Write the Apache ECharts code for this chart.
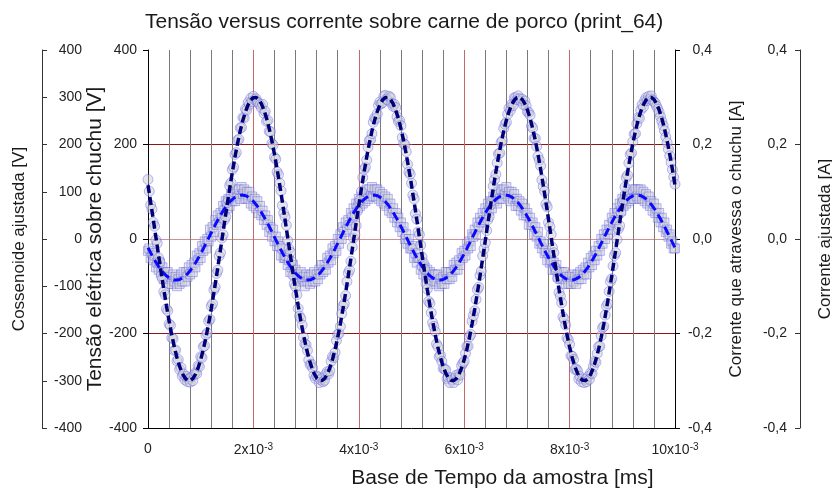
<!DOCTYPE html>
<html><head><meta charset="utf-8">
<script src="https://cdn.jsdelivr.net/npm/echarts@6/dist/echarts.min.js"></script>
<style>html,body{margin:0;padding:0;background:#fff}#c{width:832px;height:490px}</style>
</head><body><div id="c"></div>
<script>
const chartTitle = 'Tensão versus corrente sobre carne de porco (print_64)';
const xName = 'Base de Tempo da amostra [ms]';
const yNameVoltage = 'Tensão elétrica sobre chuchu [V]';
const yNameVoltageFit = 'Cossenoide ajustada [V]';
const yNameCurrent = 'Corrente que atravessa o chuchu [A]';
const yNameCurrentFit = 'Corrente ajustada [A]';

const xTickLabels = ['0', '2x10{sup|-3}', '4x10{sup|-3}', '6x10{sup|-3}', '8x10{sup|-3}', '10x10{sup|-3}'];
const currentTickLabels = ['-0,4', '-0,2', '0,0', '0,2', '0,4'];
const majorGridTimes = [0.002, 0.004, 0.006, 0.008];
const minorGridTimes = [0.0004, 0.0008, 0.0012, 0.0016, 0.0024, 0.0028, 0.0032, 0.0036, 0.0044, 0.0048,
  0.0052, 0.0056, 0.0064, 0.0068, 0.0072, 0.0076, 0.0084, 0.0088, 0.0092, 0.0096];

// sampling grid of the measurement and of the fitted curves (seconds)
const sampleTimeStep = 0.000025;
const fitTimeStep = 0.00005;

// measured voltage [V]
const voltageMeasured = [
126,101,72,63,35,27,-2,-9,-40,-49,-78,-84,-111,-118,-148,-152,-180,-183,-209,-211,
-236,-235,-258,-255,-276,-272,-290,-286,-298,-291,-302,-296,-303,-292,-300,-287,-283,-285,-268,-270,
-249,-251,-228,-226,-203,-199,-174,-170,-142,-137,-108,-102,-73,-66,-36,-29,2,9,40,47,
77,83,113,119,147,152,179,183,209,211,235,236,257,256,275,273,289,285,298,291,
302,295,297,290,287,284,278,285,266,270,249,251,228,227,202,199,173,169,142,136,
118,102,71,55,47,29,-3,-21,-28,-47,-77,-95,-101,-118,-147,-163,-168,-182,-208,-222,
-224,-236,-256,-266,-265,-273,-289,-295,-290,-292,-304,-298,-295,-302,-299,-286,-281,-286,-279,-259,
-249,-251,-240,-215,-202,-200,-185,-158,-142,-137,-120,-90,-72,-66,-47,-17,2,9,28,59,
77,83,101,130,147,152,167,194,209,210,223,247,256,255,265,283,290,286,289,302,
304,296,294,302,299,287,281,285,278,259,249,251,240,215,202,200,185,158,142,137,
118,93,85,54,42,15,9,-13,-38,-50,-64,-95,-106,-132,-136,-156,-177,-185,-196,-222,
-228,-249,-246,-259,-274,-275,-277,-296,-293,-304,-294,-298,-304,-295,-288,-298,-286,-288,-268,-263,
-259,-242,-227,-227,-207,-202,-174,-162,-152,-128,-107,-102,-77,-68,-36,-21,-8,18,41,47,
72,81,112,126,137,161,180,182,204,208,234,243,247,264,277,272,285,282,299,299,
295,303,297,292,296,284,292,282,269,268,262,239,235,213,213,196,175,167,155,125,
111,101,74,68,35,26,10,-18,-29,-60,-68,-83,-113,-121,-135,-165,-170,-182,-209,-213,
-223,-247,-248,-255,-276,-275,-279,-296,-291,-302,-296,-304,-297,-302,-291,-297,-283,-285,-270,-259,
-261,-242,-228,-227,-205,-188,-185,-161,-142,-137,-111,-90,-84,-57,-35,-29,-1,21,28,56,
77,83,110,130,135,161,179,182,206,222,223,244,257,255,273,284,279,293,299,293,
302,296,303,294,290,288,281,275,268,259,249,240,229,216,204,190,176,162,147,131,
116];

// measured current [A]
const currentMeasured = [
-0.025,-0.020,-0.040,-0.030,-0.045,-0.035,-0.060,-0.050,-0.065,-0.050,-0.070,-0.060,-0.085,-0.070,-0.085,-0.070,-0.095,-0.080,-0.095,-0.075,
-0.090,-0.080,-0.100,-0.085,-0.095,-0.075,-0.090,-0.070,-0.090,-0.070,-0.080,-0.060,-0.075,-0.055,-0.070,-0.050,-0.060,-0.035,-0.045,-0.030,
-0.040,-0.015,-0.025,-0.005,-0.020,0.000,-0.005,0.020,0.005,0.025,0.015,0.040,0.030,0.050,0.035,0.055,0.045,0.070,0.060,0.080,
0.065,0.085,0.070,0.095,0.080,0.095,0.080,0.105,0.090,0.105,0.085,0.110,0.095,0.105,0.085,0.100,0.085,0.100,0.075,0.090,
0.070,0.085,0.065,0.080,0.055,0.070,0.050,0.060,0.040,0.050,0.030,0.040,0.015,0.025,0.005,0.020,-0.005,0.005,-0.015,-0.005,
-0.015,-0.035,-0.020,-0.040,-0.040,-0.035,-0.055,-0.045,-0.070,-0.060,-0.055,-0.075,-0.065,-0.085,-0.075,-0.090,-0.070,-0.090,-0.080,-0.100,
-0.075,-0.090,-0.080,-0.095,-0.075,-0.090,-0.070,-0.090,-0.075,-0.085,-0.065,-0.075,-0.055,-0.070,-0.055,-0.065,-0.040,-0.050,-0.035,-0.045,
-0.020,-0.030,-0.015,-0.025,0.000,-0.010,0.010,0.000,0.025,0.015,0.035,0.020,0.040,0.030,0.055,0.045,0.065,0.050,0.075,0.065,
0.085,0.070,0.090,0.075,0.095,0.080,0.105,0.085,0.105,0.090,0.110,0.090,0.105,0.090,0.105,0.085,0.100,0.080,0.095,0.075,
0.090,0.070,0.085,0.060,0.075,0.055,0.065,0.045,0.055,0.035,0.045,0.025,0.035,0.015,0.025,0.000,0.010,-0.010,0.000,-0.020,
-0.020,-0.015,-0.040,-0.030,-0.050,-0.040,-0.040,-0.065,-0.055,-0.075,-0.060,-0.080,-0.065,-0.080,-0.070,-0.090,-0.075,-0.095,-0.075,-0.090,
-0.075,-0.100,-0.085,-0.095,-0.080,-0.095,-0.070,-0.085,-0.070,-0.085,-0.070,-0.080,-0.055,-0.065,-0.050,-0.065,-0.045,-0.055,-0.030,-0.040,
-0.025,-0.035,-0.010,-0.020,-0.005,-0.015,0.010,0.005,0.020,0.010,0.035,0.025,0.045,0.035,0.055,0.040,0.065,0.055,0.075,0.060,
0.080,0.065,0.090,0.080,0.095,0.075,0.100,0.085,0.105,0.085,0.105,0.095,0.110,0.090,0.100,0.080,0.100,0.085,0.095,0.070,
0.085,0.070,0.080,0.060,0.075,0.050,0.065,0.050,0.055,0.030,0.045,0.030,0.035,0.010,0.025,0.005,0.015,-0.010,-0.005,-0.020,
-0.010,-0.030,-0.025,-0.045,-0.030,-0.050,-0.045,-0.065,-0.050,-0.065,-0.055,-0.080,-0.070,-0.085,-0.070,-0.085,-0.070,-0.095,-0.080,-0.095,
-0.080,-0.095,-0.075,-0.090,-0.080,-0.095,-0.075,-0.085,-0.070,-0.085,-0.065,-0.075,-0.060,-0.075,-0.050,-0.060,-0.040,-0.055,-0.035,-0.045,
-0.025,-0.035,-0.015,-0.025,0.000,-0.010,0.010,0.000,0.020,0.010,0.030,0.020,0.045,0.035,0.055,0.040,0.065,0.055,0.075,0.060,
0.085,0.070,0.090,0.075,0.095,0.080,0.100,0.085,0.105,0.085,0.105,0.090,0.105,0.085,0.105,0.085,0.100,0.080,0.095,0.075,
0.090,0.070,0.080,0.060,0.075,0.055,0.065,0.045,0.055,0.035,0.045,0.025,0.035,0.015,0.020,0.005,0.010,-0.010,-0.005,-0.020,
-0.020];

// fitted cosine for the voltage [V]
const voltageFit = [
113.9,78.3,41.3,3.8,-33.9,-71.0,-106.9,-141.2,-173.3,-202.6,-228.7,-251.3,-269.8,-284.1,-294.0,-299.2,-299.6,-295.4,-286.5,-273.0,-255.3,-233.6,-208.1,-179.4,-147.8,
-113.9,-78.3,-41.3,-3.8,33.9,71.0,106.9,141.2,173.3,202.6,228.7,251.3,269.8,284.1,294.0,299.2,299.6,295.4,286.5,273.0,255.3,233.6,208.1,179.4,147.8,
113.9,78.3,41.3,3.8,-33.9,-71.0,-106.9,-141.2,-173.3,-202.6,-228.7,-251.3,-269.8,-284.1,-294.0,-299.2,-299.6,-295.4,-286.5,-273.0,-255.3,-233.6,-208.1,-179.4,-147.8,
-113.9,-78.3,-41.3,-3.8,33.9,71.0,106.9,141.2,173.3,202.6,228.7,251.3,269.8,284.1,294.0,299.2,299.6,295.4,286.5,273.0,255.3,233.6,208.1,179.4,147.8,
113.9,78.3,41.3,3.8,-33.9,-71.0,-106.9,-141.2,-173.3,-202.6,-228.7,-251.3,-269.8,-284.1,-294.0,-299.2,-299.6,-295.4,-286.5,-273.0,-255.3,-233.6,-208.1,-179.4,-147.8,
-113.9,-78.3,-41.3,-3.8,33.9,71.0,106.9,141.2,173.3,202.6,228.7,251.3,269.8,284.1,294.0,299.2,299.6,295.4,286.5,273.0,255.3,233.6,208.1,179.4,147.8,
113.9,78.3,41.3,3.8,-33.9,-71.0,-106.9,-141.2,-173.3,-202.6,-228.7,-251.3,-269.8,-284.1,-294.0,-299.2,-299.6,-295.4,-286.5,-273.0,-255.3,-233.6,-208.1,-179.4,-147.8,
-113.9,-78.3,-41.3,-3.8,33.9,71.0,106.9,141.2,173.3,202.6,228.7,251.3,269.8,284.1,294.0,299.2,299.6,295.4,286.5,273.0,255.3,233.6,208.1,179.4,147.8,
113.9];

// fitted cosine for the current [A]
const currentFit = [
-0.0183,-0.0291,-0.0394,-0.0490,-0.0578,-0.0656,-0.0724,-0.0779,-0.0822,-0.0852,-0.0867,-0.0869,-0.0856,-0.0829,-0.0789,-0.0736,-0.0671,-0.0594,-0.0508,-0.0413,-0.0312,-0.0205,-0.0094,0.0019,0.0132,
0.0243,0.0351,0.0454,0.0550,0.0638,0.0716,0.0784,0.0839,0.0882,0.0912,0.0927,0.0929,0.0916,0.0889,0.0849,0.0796,0.0731,0.0654,0.0568,0.0473,0.0372,0.0265,0.0154,0.0041,-0.0072,
-0.0183,-0.0291,-0.0394,-0.0490,-0.0578,-0.0656,-0.0724,-0.0779,-0.0822,-0.0852,-0.0867,-0.0869,-0.0856,-0.0829,-0.0789,-0.0736,-0.0671,-0.0594,-0.0508,-0.0413,-0.0312,-0.0205,-0.0094,0.0019,0.0132,
0.0243,0.0351,0.0454,0.0550,0.0638,0.0716,0.0784,0.0839,0.0882,0.0912,0.0927,0.0929,0.0916,0.0889,0.0849,0.0796,0.0731,0.0654,0.0568,0.0473,0.0372,0.0265,0.0154,0.0041,-0.0072,
-0.0183,-0.0291,-0.0394,-0.0490,-0.0578,-0.0656,-0.0724,-0.0779,-0.0822,-0.0852,-0.0867,-0.0869,-0.0856,-0.0829,-0.0789,-0.0736,-0.0671,-0.0594,-0.0508,-0.0413,-0.0312,-0.0205,-0.0094,0.0019,0.0132,
0.0243,0.0351,0.0454,0.0550,0.0638,0.0716,0.0784,0.0839,0.0882,0.0912,0.0927,0.0929,0.0916,0.0889,0.0849,0.0796,0.0731,0.0654,0.0568,0.0473,0.0372,0.0265,0.0154,0.0041,-0.0072,
-0.0183,-0.0291,-0.0394,-0.0490,-0.0578,-0.0656,-0.0724,-0.0779,-0.0822,-0.0852,-0.0867,-0.0869,-0.0856,-0.0829,-0.0789,-0.0736,-0.0671,-0.0594,-0.0508,-0.0413,-0.0312,-0.0205,-0.0094,0.0019,0.0132,
0.0243,0.0351,0.0454,0.0550,0.0638,0.0716,0.0784,0.0839,0.0882,0.0912,0.0927,0.0929,0.0916,0.0889,0.0849,0.0796,0.0731,0.0654,0.0568,0.0473,0.0372,0.0265,0.0154,0.0041,-0.0072,
-0.0183];

const FONT = '"Liberation Sans", Arial, sans-serif';
const pair = (arr, step) => arr.map((v, i) => [i * step, v]);

const chart = echarts.init(document.getElementById('c'), null, {renderer: 'canvas'});

const markerBase = {
  color: 'rgba(206,206,210,0.62)',
  borderColor: 'rgba(80,80,245,0.5)',
  borderWidth: 1
};

const NONE = 'rgba(0,0,0,0)';
const gridLineData = minorGridTimes.map(t => ({xAxis: t, lineStyle: {color: '#7a7a7a', width: 1, type: 'solid'}}))
  .concat(majorGridTimes.map(t => ({xAxis: t, lineStyle: {color: '#c46a6a', width: 1, type: 'solid'}})));

chart.setOption({
  animation: false,
  backgroundColor: '#ffffff',
  textStyle: {fontFamily: FONT},
  title: {
    text: chartTitle, left: 140, top: 7,
    textStyle: {fontSize: 21, fontWeight: 'normal', color: '#1a1a1a', fontFamily: FONT}
  },
  grid: {left: 148, right: 157, top: 50, bottom: 62, containLabel: false, outerBoundsMode: 'none'},
  xAxis: {
    type: 'value', position: 'bottom', min: 0, max: 0.01, interval: 0.002,
    name: xName, nameLocation: 'middle', nameGap: 40, nameMoveOverlap: false,
    nameTextStyle: {fontSize: 21, color: '#1a1a1a', fontFamily: FONT, padding: [0, 0, 0, 182]},
    axisLine: {show: true, onZero: false, lineStyle: {color: '#000', width: 1}},
    axisTick: {show: false},
    axisLabel: {
      margin: 14, color: '#222', fontSize: 14, fontFamily: FONT,
      formatter: v => xTickLabels[Math.round(v / 0.002)],
      rich: {sup: {fontSize: 10, verticalAlign: 'top', color: '#222', fontFamily: FONT, padding: [0, 0, 6, 0]}}
    },
    splitLine: {show: false}
  },
  yAxis: [
    {
      type: 'value', position: 'left', min: -400, max: 400, interval: 200,
      name: yNameVoltage, nameLocation: 'middle', nameGap: 42, nameRotate: 90, nameMoveOverlap: false,
      nameTextStyle: {fontSize: 21, color: '#1a1a1a', fontFamily: FONT},
      axisLine: {show: true, onZero: false, lineStyle: {color: '#000'}},
      axisTick: {show: true, inside: false, length: 5, lineStyle: {color: '#000'}},
      axisLabel: {margin: 11, color: '#222', fontSize: 14, fontFamily: FONT},
      splitLine: {show: true, lineStyle: {width: 1, color: [NONE, '#8e1515', '#d49090', '#8e1515', NONE]}}
    },
    {
      type: 'value', position: 'left', offset: 106, min: -400, max: 400, interval: 100,
      name: yNameVoltageFit, nameLocation: 'middle', nameGap: 14, nameRotate: 90, nameMoveOverlap: false,
      nameTextStyle: {fontSize: 17, color: '#1a1a1a', fontFamily: FONT},
      axisLine: {show: true, onZero: false, lineStyle: {color: '#333'}},
      axisTick: {show: true, inside: true, length: 5, lineStyle: {color: '#333'}},
      axisLabel: {inside: true, align: 'right', margin: 40, color: '#222', fontSize: 14, fontFamily: FONT},
      splitLine: {show: false}
    },
    {
      type: 'value', position: 'right', min: -0.4, max: 0.4, interval: 0.2,
      name: yNameCurrent, nameLocation: 'middle', nameGap: 53, nameRotate: 90, nameMoveOverlap: false,
      nameTextStyle: {fontSize: 17, color: '#1a1a1a', fontFamily: FONT},
      axisLine: {show: true, onZero: false, lineStyle: {color: '#000'}},
      axisTick: {show: true, inside: false, length: 5, lineStyle: {color: '#000'}},
      axisLabel: {align: 'right', margin: 37, color: '#222', fontSize: 14, fontFamily: FONT,
        formatter: v => currentTickLabels[Math.round((v + 0.4) / 0.2)]},
      splitLine: {show: false}
    },
    {
      type: 'value', position: 'right', offset: 125, min: -0.4, max: 0.4, interval: 0.2,
      name: yNameCurrentFit, nameLocation: 'middle', nameGap: 17, nameRotate: 90, nameMoveOverlap: false,
      nameTextStyle: {fontSize: 17, color: '#1a1a1a', fontFamily: FONT},
      axisLine: {show: true, onZero: false, lineStyle: {color: '#333'}},
      axisTick: {show: true, inside: true, length: 5, lineStyle: {color: '#333'}},
      axisLabel: {inside: true, align: 'right', margin: 13, color: '#222', fontSize: 14, fontFamily: FONT,
        formatter: v => currentTickLabels[Math.round((v + 0.4) / 0.2)]},
      splitLine: {show: false}
    }
  ],
  series: [
    {
      name: 'Corrente medida', type: 'scatter', yAxisIndex: 2,
      symbol: 'rect', symbolSize: 9, z: 4,
      itemStyle: markerBase,
      data: pair(currentMeasured, sampleTimeStep),
      // vertical grid lines (gray every 0.4x10^-3, red every 2x10^-3), kept under the markers
      markLine: {
        silent: true, z: 1, precision: 8, symbol: ['none', 'none'], label: {show: false}, animation: false,
        data: gridLineData
      }
    },
    {
      name: 'Tensão medida', type: 'scatter', yAxisIndex: 0,
      symbol: 'circle', symbolSize: 10, z: 5,
      itemStyle: markerBase,
      data: pair(voltageMeasured, sampleTimeStep)
    },
    {
      name: 'Corrente ajustada', type: 'line', yAxisIndex: 3,
      showSymbol: false, symbol: 'none', z: 6,
      lineStyle: {color: '#0a0aff', width: 3, type: [9, 5]},
      data: pair(currentFit, fitTimeStep)
    },
    {
      name: 'Cossenoide ajustada', type: 'line', yAxisIndex: 1,
      showSymbol: false, symbol: 'none', z: 7,
      lineStyle: {color: '#00007a', width: 3.5, type: [8, 4]},
      data: pair(voltageFit, fitTimeStep)
    }
  ]
});
</script>
</body></html>
